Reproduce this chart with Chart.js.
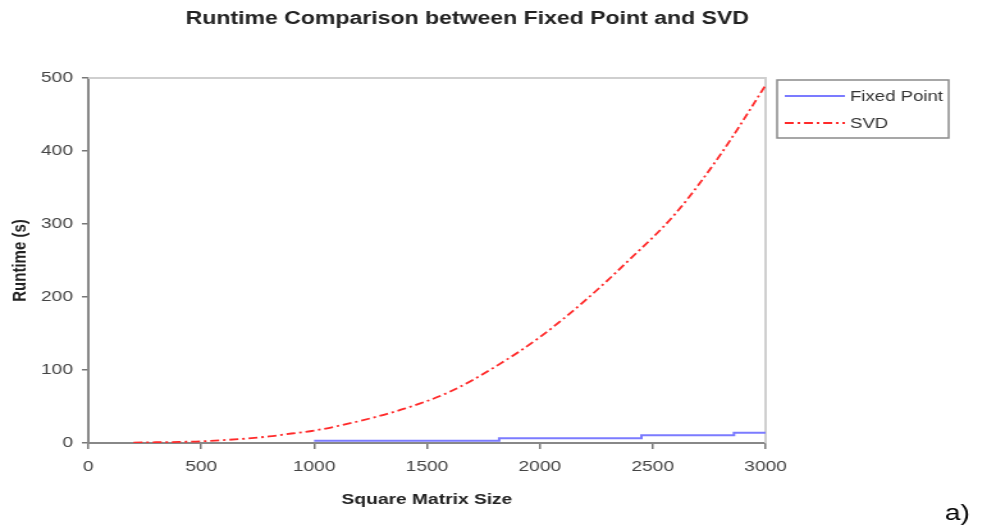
<!DOCTYPE html>
<html>
<head>
<meta charset="utf-8">
<script src="https://cdn.jsdelivr.net/npm/chart.js@4"></script>
<style>
  html, body { margin: 0; padding: 0; background: #fff; overflow: hidden; }
  /* the figure is drawn narrow and widened sideways, like the exported plot */
  #wrap { width: 771px; height: 526px; transform: scaleX(1.2802); transform-origin: 0 0; }
</style>
</head>
<body>
<div id="wrap"><canvas id="myChart" width="771" height="526"></canvas></div>
<script>
// matrix sizes and runtimes (seconds)
var svdSizes = [200, 300, 400, 500, 600, 700, 800, 900, 1000, 1200, 1400, 1600, 1800, 2000, 2200, 2400, 2600, 2800, 3000];
var svdTimes = [0.5, 1, 1.5, 2.3, 4, 6, 9, 13, 17, 30, 47, 70, 104, 145, 195, 252, 314, 395, 490];

// fixed point runtime jumps in steps
var fixedSizes = [1000, 1820, 2450, 2860, 3000];
var fixedTimes = [3, 6.5, 10.5, 14, 14];

var xTicks = [0, 500, 1000, 1500, 2000, 2500, 3000];
var yTicks = [0, 100, 200, 300, 400, 500];

var chartTitle = 'Runtime Comparison between Fixed Point and SVD';

function toPoints(xs, ys) {
    var pts = [];
    for (var i = 0; i < xs.length; i++) {
        pts.push({ x: xs[i], y: ys[i] });
    }
    return pts;
}

const FONT = "'Liberation Sans', Arial, sans-serif";

// title, light top/right frame, legend box and the "a)" tag
const extras = {
    id: 'extras',
    beforeDatasetsDraw(chart) {
        const a = chart.chartArea;
        const ctx = chart.ctx;
        ctx.save();
        ctx.strokeStyle = '#cfcfcf';
        ctx.lineWidth = 2;
        ctx.beginPath();
        ctx.moveTo(a.left, a.top);
        ctx.lineTo(a.right, a.top);
        ctx.lineTo(a.right, a.bottom);
        ctx.stroke();
        ctx.restore();
    },
    afterDraw(chart) {
        const a = chart.chartArea;
        const ctx = chart.ctx;
        ctx.save();

        ctx.font = 'bold 18px ' + FONT;
        ctx.fillStyle = '#222';
        ctx.textAlign = 'center';
        ctx.textBaseline = 'middle';
        ctx.fillText(chartTitle, 365, 19);

        // legend
        const bx = a.right + 9, by = a.top + 2, bw = 134, bh = 58;
        ctx.fillStyle = '#fff';
        ctx.fillRect(bx, by, bw, bh);
        ctx.strokeStyle = '#8a8a8a';
        ctx.lineWidth = 1.5;
        ctx.strokeRect(bx, by, bw, bh);

        ctx.font = '14.5px ' + FONT;
        ctx.textAlign = 'left';
        chart.data.datasets.forEach(function (ds, i) {
            const y = by + 16 + i * 27;
            ctx.strokeStyle = ds.borderColor;
            ctx.lineWidth = ds.borderWidth;
            ctx.setLineDash(ds.borderDash || []);
            ctx.beginPath();
            ctx.moveTo(bx + 6, y);
            ctx.lineTo(bx + 53, y);
            ctx.stroke();
            ctx.setLineDash([]);
            ctx.fillStyle = '#333';
            ctx.fillText(ds.label, bx + 57, y + 1);
        });

        // panel tag
        ctx.font = '22px ' + FONT;
        ctx.fillStyle = '#000';
        ctx.textBaseline = 'alphabetic';
        ctx.fillText('a)', 738, 520);
        ctx.restore();
    }
};

document.addEventListener("DOMContentLoaded", () => {
    var ctx = document.getElementById('myChart').getContext('2d');
    new Chart(ctx, {
        type: 'line',
        data: {
            datasets: [
                {
                    label: 'Fixed Point',
                    data: toPoints(fixedSizes, fixedTimes),
                    borderColor: '#7b7bff',
                    borderWidth: 2,
                    stepped: true,
                    pointRadius: 0,
                    fill: false
                },
                {
                    label: 'SVD',
                    data: toPoints(svdSizes, svdTimes),
                    borderColor: '#ff2a2a',
                    borderWidth: 1.8,
                    borderDash: [7, 3, 2, 3],
                    cubicInterpolationMode: 'monotone',
                    pointRadius: 0,
                    fill: false
                }
            ]
        },
        options: {
            responsive: false,
            animation: false,
            layout: { padding: { top: 78, right: 173, bottom: 0, left: 0 } },
            plugins: {
                legend: { display: false },
                tooltip: { enabled: false },
                title: { display: false }
            },
            scales: {
                x: {
                    type: 'linear',
                    min: 0,
                    max: 3000,
                    afterBuildTicks: function (s) { s.ticks = xTicks.map(v => ({ value: v })); },
                    afterFit: function (s) { s.height = 83; },
                    grid: { drawOnChartArea: false, drawTicks: true, tickLength: 6, color: '#777', lineWidth: 1.5 },
                    border: { display: true, color: '#888', width: 2 },
                    ticks: {
                        color: '#444', padding: 9, maxRotation: 0,
                        font: { family: FONT, size: 15 },
                        callback: function (v) { return String(v); }
                    },
                    title: {
                        display: true,
                        text: 'Square Matrix Size',
                        color: '#222',
                        font: { family: FONT, size: 15, weight: 'bold' },
                        padding: { top: 0, bottom: 17 }
                    }
                },
                y: {
                    min: 0,
                    max: 500,
                    afterBuildTicks: function (s) { s.ticks = yTicks.map(v => ({ value: v })); },
                    afterFit: function (s) { s.width = 69; },
                    grid: { drawOnChartArea: false, drawTicks: true, tickLength: 5, color: '#777', lineWidth: 1.5 },
                    border: { display: true, color: '#888', width: 2 },
                    ticks: {
                        color: '#444', padding: 7,
                        font: { family: FONT, size: 15 },
                        callback: function (v) { return String(v); }
                    },
                    title: {
                        display: true,
                        text: 'Runtime (s)',
                        color: '#222',
                        font: { family: FONT, size: 15, weight: 'bold' },
                        padding: { top: 7, bottom: 0 }
                    }
                }
            }
        },
        plugins: [extras]
    });
});
</script>
</body>
</html>
